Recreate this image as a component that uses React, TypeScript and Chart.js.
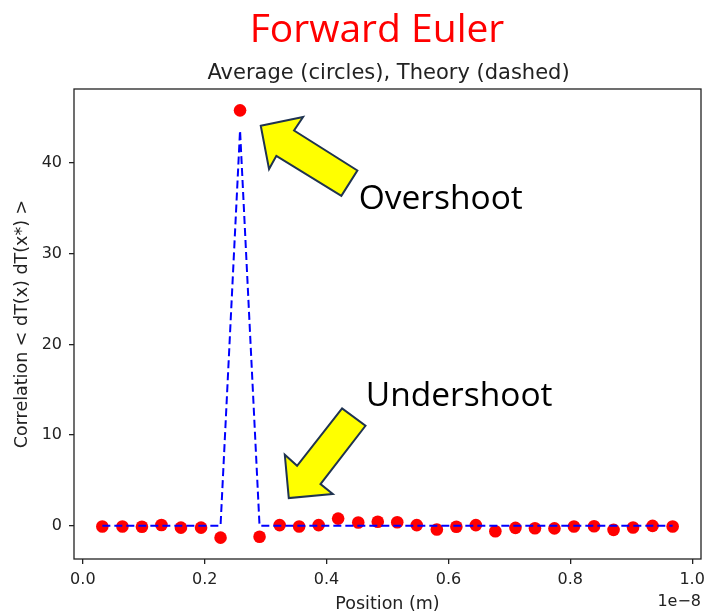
import React, { useEffect, useRef } from "react";
import { Chart, registerables } from "chart.js";

Chart.register(...registerables);

// Positions in units of 1e-8 m
const positions = [
  0.032, 0.065, 0.097, 0.129, 0.161, 0.194, 0.226, 0.258, 0.29, 0.323,
  0.355, 0.387, 0.419, 0.452, 0.484, 0.516, 0.548, 0.581, 0.613, 0.645,
  0.677, 0.71, 0.742, 0.774, 0.806, 0.839, 0.871, 0.903, 0.935, 0.968,
];

// Averaged correlation (red circles)
const averageValues = [
  -0.08, -0.08, -0.1, 0.1, -0.2, -0.2, -1.3, 45.8, -1.2, 0.08,
  -0.07, 0.08, 0.8, 0.37, 0.45, 0.4, 0.08, -0.4, -0.1, 0.08,
  -0.6, -0.22, -0.26, -0.28, -0.07, -0.04, -0.44, -0.18, 0, -0.07,
];

// Theoretical correlation (blue dashed)
const theoryValues = [
  0, 0, 0, 0, 0, 0, 0, 43.6, 0, 0,
  0, 0, 0, 0, 0, 0, 0, 0, 0, 0,
  0, 0, 0, 0, 0, 0, 0, 0, 0, 0,
];

const xTicks = [0.0, 0.2, 0.4, 0.6, 0.8, 1.0];
const yTicks = [0, 10, 20, 30, 40];

const chartTitle = "Forward Euler";
const chartSubtitle = "Average (circles), Theory (dashed)";
const xLabel = "Position (m)";
const yLabel = "Correlation < dT(x) dT(x*) >";
const xOffsetLabel = "1e\u22128";

// Callout arrows: tip anchored in data space, outline as pixel offsets from the tip
const callouts = [
  {
    text: "Overshoot",
    tip: { x: 0.292, y: 44.1 },
    outline: [
      [0, 0], [42.3, -8.7], [33.3, 4.7], [96.6, 44.7],
      [80.6, 70], [15.6, 30], [8.3, 43.3],
    ],
    textOffset: [98, 83],
  },
  {
    text: "Undershoot",
    tip: { x: 0.338, y: 3.06 },
    outline: [
      [0, 0], [-4, -43.3], [8.3, -32.3], [53.3, -89.6],
      [76.7, -72.3], [31.7, -14], [44, -4],
    ],
    textOffset: [77, -92],
  },
];

const tickFont = { family: "'DejaVu Sans', sans-serif", size: 16 };
const labelFont = { family: "'DejaVu Sans', sans-serif", size: 17.5 };
const inkColor = "#222";

const decorations = {
  id: "decorations",
  afterDraw(chart: any) {
    const { ctx, chartArea, scales } = chart;
    const xs = scales.x;
    const ys = scales.y;
    ctx.save();

    // axes frame
    ctx.strokeStyle = inkColor;
    ctx.lineWidth = 1.3;
    ctx.strokeRect(
      chartArea.left,
      chartArea.top,
      chartArea.right - chartArea.left,
      chartArea.bottom - chartArea.top
    );

    // headline and subtitle
    ctx.fillStyle = "#ff0000";
    ctx.font = "39px 'Open Sans', sans-serif";
    ctx.textAlign = "center";
    ctx.textBaseline = "alphabetic";
    ctx.fillText(chartTitle, 377, 42);

    ctx.fillStyle = inkColor;
    ctx.font = "21px 'DejaVu Sans', sans-serif";
    ctx.fillText(chartSubtitle, (chartArea.left + chartArea.right) / 2 + 1, 79);

    // axis offset text
    ctx.font = "16px 'DejaVu Sans', sans-serif";
    ctx.textAlign = "right";
    ctx.textBaseline = "middle";
    ctx.fillText(xOffsetLabel, chartArea.right, 602);

    // callout arrows and labels
    for (const c of callouts) {
      const tx = xs.getPixelForValue(c.tip.x);
      const ty = ys.getPixelForValue(c.tip.y);
      ctx.beginPath();
      c.outline.forEach(([dx, dy], i) => {
        if (i === 0) ctx.moveTo(tx + dx, ty + dy);
        else ctx.lineTo(tx + dx, ty + dy);
      });
      ctx.closePath();
      ctx.fillStyle = "#ffff00";
      ctx.fill();
      ctx.strokeStyle = "#1f3350";
      ctx.lineWidth = 2;
      ctx.lineJoin = "miter";
      ctx.stroke();

      ctx.fillStyle = "#000";
      ctx.font = "33.5px 'Open Sans', sans-serif";
      ctx.textAlign = "left";
      ctx.textBaseline = "alphabetic";
      ctx.fillText(c.text, tx + c.textOffset[0], ty + c.textOffset[1]);
    }
    ctx.restore();
  },
};

export default function App() {
  const canvasRef = useRef<HTMLCanvasElement | null>(null);

  useEffect(() => {
    const canvas = canvasRef.current;
    if (!canvas) return;

    const chart = new Chart(canvas, {
      type: "scatter",
      data: {
        datasets: [
          {
            type: "line",
            label: "Theory",
            data: positions.map((x, i) => ({ x, y: theoryValues[i] })),
            borderColor: "#0000ff",
            borderWidth: 2,
            borderDash: [8, 4],
            pointRadius: 0,
            fill: false,
            tension: 0,
          },
          {
            type: "scatter",
            label: "Average",
            data: positions.map((x, i) => ({ x, y: averageValues[i] })),
            backgroundColor: "#ff0000",
            borderColor: "#ff0000",
            borderWidth: 0,
            pointRadius: 6.3,
          },
        ],
      },
      options: {
        responsive: false,
        animation: false,
        layout: { padding: { left: 0, top: 89, right: 8, bottom: 0 } },
        plugins: {
          legend: { display: false },
          tooltip: { enabled: false },
          title: { display: false },
        },
        scales: {
          x: {
            type: "linear",
            min: -0.0145,
            max: 1.0145,
            afterBuildTicks: (scale: any) => {
              scale.ticks = xTicks.map((v) => ({ value: v }));
            },
            afterFit: (scale: any) => {
              scale.height = 56;
            },
            ticks: {
              font: tickFont,
              color: inkColor,
              padding: 6,
              maxRotation: 0,
              autoSkip: false,
              callback: (v: any) => Number(v).toFixed(1),
            },
            grid: {
              drawOnChartArea: false,
              drawTicks: true,
              tickLength: 5,
              color: inkColor,
              lineWidth: 1.3,
            },
            border: { display: false },
            title: {
              display: true,
              text: xLabel,
              font: labelFont,
              color: inkColor,
              padding: { top: 0, bottom: 0.5 },
            },
          },
          y: {
            type: "linear",
            min: -3.655,
            max: 48.155,
            afterBuildTicks: (scale: any) => {
              scale.ticks = yTicks.map((v) => ({ value: v }));
            },
            afterFit: (scale: any) => {
              scale.width = 74;
            },
            ticks: {
              font: tickFont,
              color: inkColor,
              padding: 7,
              autoSkip: false,
              callback: (v: any) => String(v),
            },
            grid: {
              drawOnChartArea: false,
              drawTicks: true,
              tickLength: 5,
              color: inkColor,
              lineWidth: 1.3,
            },
            border: { display: false },
            title: {
              display: true,
              text: yLabel,
              font: labelFont,
              color: inkColor,
              padding: { top: 11.5, bottom: 0 },
            },
          },
        },
      },
      plugins: [decorations],
    });

    return () => chart.destroy();
  }, []);

  return (
    <canvas
      ref={canvasRef}
      width={711}
      height={615}
      style={{ position: "absolute", left: 0, top: 0, width: 711, height: 615 }}
    />
  );
}
